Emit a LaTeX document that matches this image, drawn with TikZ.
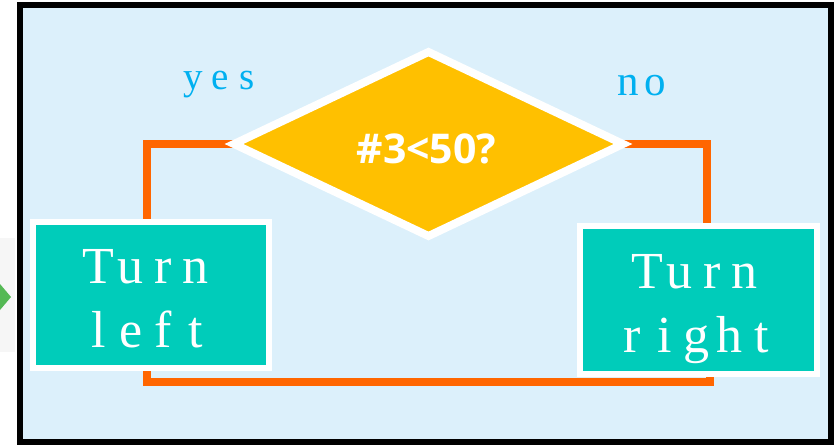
\documentclass[tikz,border=0pt]{standalone}
\usepackage{fontspec}
\setmainfont{Liberation Serif}
\newfontfamily\condfont{Open Sans}
\usetikzlibrary{shapes.geometric}

\definecolor{paneblue}{HTML}{DCF0FB}
\definecolor{boxteal}{HTML}{00CCBA}
\definecolor{decgold}{HTML}{FFC000}
\definecolor{wireorange}{HTML}{FF6600}
\definecolor{answerblue}{HTML}{00B0F0}
\definecolor{sidegray}{HTML}{F6F6F6}
\definecolor{tabgreen}{HTML}{55B955}

% fixed-pitch letters: every character centred in a cell of equal width
\newlength\cellw
\newcommand\spaced[2]{\setlength\cellw{#1}\spacedloop#2\relax}
\def\spacedloop#1{\ifx#1\relax\else\makebox[\cellw][c]{#1}\expandafter\spacedloop\fi}

\pgfdeclarelayer{frame}
\pgfdeclarelayer{wires}
\pgfsetlayers{frame,wires,main}

\begin{document}
\begin{tikzpicture}[x=1pt,y=-1pt,
  decision/.style={diamond, draw=white, line width=8pt, fill=decgold,
    minimum width=389pt, minimum height=184pt, inner sep=0pt, outer sep=0pt},
  action/.style={rectangle, draw=white, line width=6pt, fill=boxteal,
    inner sep=0pt, outer sep=0pt},
  wire/.style={draw=wireorange, line width=8pt},
  boxtext/.style={text=white, inner sep=0pt, anchor=base,
    font=\fontsize{52}{52}\selectfont},
  answer/.style={text=answerblue, inner sep=0pt, anchor=base},
  condtext/.style={text=white, inner sep=0pt, anchor=base,
    font=\condfont\bfseries\fontsize{41}{41}\selectfont}]

\useasboundingbox (0,0) rectangle (836,445);

% side strip, panel and frame
\begin{pgfonlayer}{frame}
  \fill[sidegray] (0,238) rectangle (15,352);
  \fill[tabgreen] (0,284) -- (11,297) -- (0,310) -- cycle;
  \draw[line width=6pt, fill=paneblue] (20,5) rectangle (830.5,442);
\end{pgfonlayer}

% decision and the two actions
\node[decision] (test) at (428.5,144) {};
\node[condtext] (cond) at (426.5,163) {\#3<50?};

\node[action, minimum width=236pt, minimum height=146pt] (left) at (151,295) {};
\node[action, minimum width=237pt, minimum height=148pt] (right) at (698.5,300) {};

\node[boxtext] (leftA) at (147,283) {\spaced{32.5pt}{Turn}};
\node[boxtext] (leftB) at (147,347) {\spaced{32.5pt}{left}};
\node[boxtext] (rightA) at (696,288) {\spaced{32.5pt}{Turn}};
\node[boxtext] (rightB) at (697,352) {\spaced{32.5pt}{right}};

\node[answer, font=\fontsize{39}{39}\selectfont] (yes) at (220,89) {\spaced{27pt}{yes}};
\node[answer, font=\fontsize{43}{43}\selectfont] (no) at (642,95) {\spaced{27pt}{no}};

% connectors
\begin{pgfonlayer}{wires}
  \draw[wire] (test.west) -| ([xshift=-4pt]left.north);
  \draw[wire] (test.east) -| ([xshift=8.5pt]right.north);
  \draw[wire] ([xshift=-4pt]left.south) -- ++(0,14) -| ([xshift=11.5pt]right.south);
\end{pgfonlayer}
\end{tikzpicture}
\end{document}
